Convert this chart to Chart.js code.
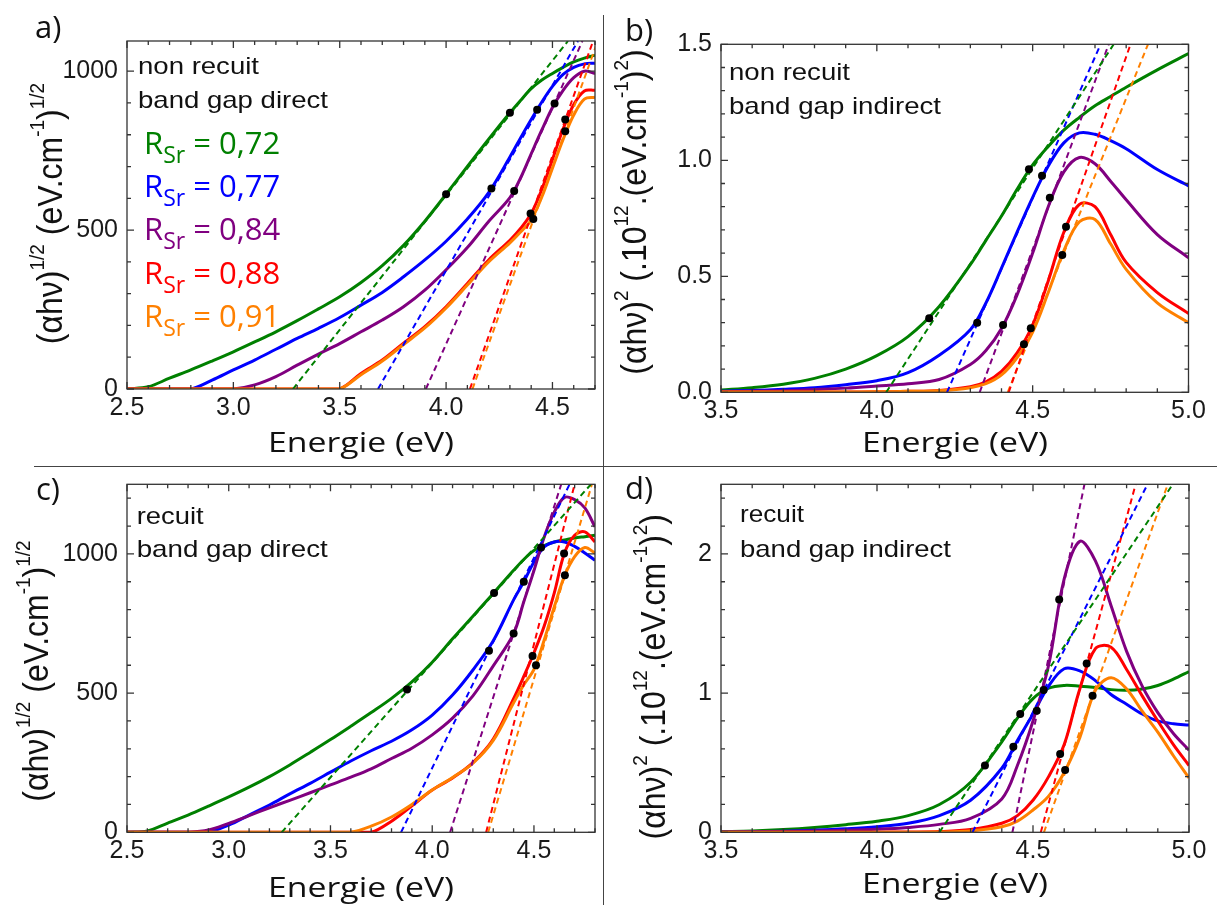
<!DOCTYPE html>
<html>
<head>
<meta charset="utf-8">
<script src="https://cdn.jsdelivr.net/npm/chart.js@4.4.1/dist/chart.umd.min.js"></script>
<style>
  html, body { margin: 0; padding: 0; background: #fff; }
  #page { position: relative; width: 1217px; height: 905px; overflow: hidden; background: #fff; }
  #page canvas { position: absolute; }
  .sep { position: absolute; background: #444; }
</style>
</head>
<body>
<div id="page">
  <canvas id="chartA" width="605" height="470" style="left:0;top:0"></canvas>
  <canvas id="chartB" width="612" height="470" style="left:605px;top:0"></canvas>
  <canvas id="chartC" width="605" height="450" style="left:0;top:455px"></canvas>
  <canvas id="chartD" width="612" height="450" style="left:605px;top:455px"></canvas>
  <div class="sep" style="left:34px;top:466px;width:1183px;height:1px"></div>
  <div class="sep" style="left:603px;top:15px;width:1px;height:890px"></div>
</div>
<script>
// series: R_Sr values, in order green, blue, purple, red, orange
const seriesNames = ['0,72', '0,77', '0,84', '0,88', '0,91'];
const COLORS = ['#008000', '#0000ff', '#800080', '#ff0000', '#ff8000'];

// a) non recuit, band gap direct : (alpha h nu)^1/2
const aEnergy = [2.5, 2.6, 2.7, 2.8, 2.9, 3.0, 3.1, 3.2, 3.3, 3.4, 3.5, 3.6, 3.7, 3.8, 3.9, 4.0, 4.1, 4.2, 4.3, 4.35, 4.4, 4.45, 4.5, 4.55, 4.6, 4.65, 4.7];
const aGreen = [0, 7, 34, 60, 88, 117, 148, 180, 215, 252, 290, 335, 388, 452, 528, 613, 700, 786, 869, 908, 945, 972, 993, 1012, 1029, 1041, 1050];
const aBlue = [0, 0, 0, 0, 28, 60, 91, 125, 159, 191, 225, 264, 304, 353, 406, 465, 535, 618, 730, 790, 848, 903, 952, 990, 1012, 1023, 1025];
const aPurple = [0, 0, 0, 0, 0, 0, 13, 39, 75, 110, 143, 180, 217, 259, 311, 375, 445, 527, 602, 664, 740, 815, 886, 940, 980, 1000, 993];
const aRed = [0, 0, 0, 0, 0, 0, 0, 0, 0, 0, 0, 49, 91, 144, 196, 259, 332, 406, 468, 505, 552, 628, 722, 818, 895, 938, 940];
const aOrange = [0, 0, 0, 0, 0, 0, 0, 0, 0, 0, 0, 45, 88, 140, 192, 255, 327, 400, 460, 494, 532, 604, 695, 785, 862, 912, 918];
const aFitFrom = [3.28, 3.68, 3.905, 4.112, 4.124];
const aFitTo = [4.573, 4.62, 4.641, 4.691, 4.713];
const aDotE = [4.0, 4.30, 4.213, 4.428, 4.32, 4.51, 4.397, 4.56, 4.41, 4.56];
const aDotV = [613, 869, 631, 879, 623, 898, 552, 848, 535, 811];
const aXTicks = [2.5, 3.0, 3.5, 4.0, 4.5];
const aYTicks = [0, 500, 1000];

// b) non recuit, band gap indirect : (alpha h nu)^2 in 1e12
const bEnergy = [3.5, 3.6, 3.7, 3.8, 3.9, 4.0, 4.1, 4.2, 4.3, 4.35, 4.4, 4.45, 4.5, 4.55, 4.6, 4.65, 4.7, 4.75, 4.8, 4.9, 5.0];
const bGreen = [0.01, 0.02, 0.035, 0.06, 0.1, 0.158, 0.24, 0.37, 0.55, 0.655, 0.76, 0.875, 0.98, 1.06, 1.13, 1.185, 1.235, 1.275, 1.315, 1.39, 1.46];
const bBlue = [0.005, 0.008, 0.013, 0.02, 0.033, 0.05, 0.085, 0.16, 0.27, 0.385, 0.535, 0.69, 0.84, 0.975, 1.075, 1.118, 1.112, 1.085, 1.05, 0.96, 0.89];
const bPurple = [0.002, 0.004, 0.007, 0.012, 0.018, 0.027, 0.037, 0.055, 0.12, 0.18, 0.275, 0.42, 0.6, 0.8, 0.95, 1.012, 0.985, 0.91, 0.83, 0.68, 0.58];
const bRed = [0.001, 0.001, 0.001, 0.001, 0.001, 0.002, 0.004, 0.008, 0.024, 0.045, 0.09, 0.17, 0.29, 0.48, 0.69, 0.81, 0.8, 0.68, 0.56, 0.43, 0.34];
const bOrange = [0.001, 0.001, 0.001, 0.001, 0.001, 0.002, 0.004, 0.007, 0.02, 0.037, 0.075, 0.15, 0.26, 0.43, 0.61, 0.735, 0.745, 0.64, 0.53, 0.385, 0.30];
const bFitFrom = [4.03, 4.225, 4.33, 4.423, 4.42];
const bFitTo = [4.76, 4.718, 4.744, 4.814, 4.87];
const bDotE = [4.168, 4.488, 4.322, 4.53, 4.405, 4.555, 4.494, 4.607, 4.472, 4.595];
const bDotV = [0.319, 0.961, 0.30, 0.933, 0.29, 0.839, 0.276, 0.714, 0.207, 0.592];
const bXTicks = [3.5, 4.0, 4.5, 5.0];
const bYTicks = [0, 0.5, 1.0, 1.5];

// c) recuit, band gap direct
const cEnergy = [2.5, 2.6, 2.7, 2.8, 2.9, 3.0, 3.1, 3.2, 3.3, 3.4, 3.5, 3.6, 3.7, 3.8, 3.9, 4.0, 4.1, 4.2, 4.3, 4.4, 4.45, 4.5, 4.55, 4.6, 4.65, 4.7, 4.75, 4.8];
const cGreen = [0, 5, 33, 62, 94, 127, 162, 200, 242, 287, 333, 381, 430, 481, 540, 611, 695, 776, 858, 941, 980, 1012, 1030, 1043, 1050, 1057, 1062, 1067];
const cBlue = [0, 0, 0, 0, 0, 26, 62, 98, 138, 176, 216, 256, 293, 327, 368, 421, 493, 583, 688, 835, 900, 971, 1025, 1043, 1043, 1027, 1003, 977];
const cPurple = [0, 0, 0, 0, 8, 32, 60, 88, 115, 142, 170, 198, 228, 265, 302, 350, 410, 490, 598, 714, 828, 940, 1060, 1150, 1203, 1195, 1165, 1097];
const cRed = [0, 0, 0, 0, 0, 0, 0, 0, 0, 0, 0, 0, 0, 40, 95, 152, 195, 250, 335, 480, 560, 645, 740, 860, 1003, 1067, 1079, 1043];
const cOrange = [0, 0, 0, 0, 0, 0, 0, 0, 0, 0, 0, 0, 22, 55, 100, 152, 197, 248, 330, 465, 530, 585, 690, 810, 920, 990, 1023, 1003];
const cFitFrom = [3.26, 3.847, 4.088, 4.265, 4.275];
const cFitTo = [4.78, 4.675, 4.634, 4.70, 4.785];
const cDotE = [3.876, 4.304, 4.279, 4.45, 4.40, 4.535, 4.493, 4.648, 4.51, 4.652];
const cDotV = [513, 860, 652, 900, 714, 1023, 633, 1001, 600, 923];
const cXTicks = [2.5, 3.0, 3.5, 4.0, 4.5];
const cYTicks = [0, 500, 1000];

// d) recuit, band gap indirect
const dEnergy = [3.5, 3.6, 3.7, 3.8, 3.9, 4.0, 4.1, 4.2, 4.3, 4.4, 4.45, 4.5, 4.55, 4.6, 4.65, 4.7, 4.75, 4.8, 4.85, 4.9, 4.95, 5.0];
const dGreen = [0.005, 0.01, 0.02, 0.035, 0.055, 0.08, 0.12, 0.2, 0.36, 0.65, 0.82, 0.96, 1.035, 1.055, 1.05, 1.04, 1.025, 1.02, 1.03, 1.055, 1.1, 1.155];
const dBlue = [0.002, 0.004, 0.008, 0.015, 0.025, 0.04, 0.065, 0.12, 0.23, 0.46, 0.66, 0.85, 1.05, 1.175, 1.16, 1.09, 0.99, 0.92, 0.85, 0.8, 0.78, 0.77];
const dPurple = [0.001, 0.003, 0.005, 0.009, 0.014, 0.022, 0.035, 0.057, 0.1, 0.24, 0.48, 0.8, 1.2, 1.82, 2.09, 1.95, 1.63, 1.3, 1.05, 0.86, 0.71, 0.59];
const dRed = [0, 0, 0, 0, 0.001, 0.001, 0.002, 0.005, 0.02, 0.065, 0.12, 0.23, 0.4, 0.63, 1.03, 1.32, 1.33, 1.17, 0.98, 0.8, 0.63, 0.48];
const dOrange = [0, 0, 0, 0, 0, 0.001, 0.001, 0.002, 0.01, 0.04, 0.08, 0.16, 0.26, 0.43, 0.68, 1.02, 1.11, 1.03, 0.87, 0.72, 0.55, 0.39];
const dFitFrom = [4.20, 4.306, 4.434, 4.525, 4.535];
const dFitTo = [4.948, 4.867, 4.665, 4.829, 4.932];
const dDotE = [4.346, 4.459, 4.437, 4.512, 4.534, 4.584, 4.587, 4.672, 4.603, 4.691];
const dDotV = [0.479, 0.85, 0.615, 0.873, 1.022, 1.673, 0.562, 1.213, 0.447, 0.981];
const dXTicks = [3.5, 4.0, 4.5, 5.0];
const dYTicks = [0, 1, 2];

const titleDirect = [['(\u03b1h\u03bd)', 0], ['1/2', 1], [' (eV.cm', 0], ['-1', 1], [')', 0], ['1/2', 1]];
const titleIndirect = [['(\u03b1h\u03bd)', 0], ['2', 1], [' (.10', 0], ['12', 1], ['.(eV.cm', 0], ['-1', 1], [')', 0], ['2', 1], [')', 0]];

const TICK_FONT = '"Liberation Sans", Arial, sans-serif';
const TEXT_FONT = '"Open Sans", "Noto Sans", sans-serif';

function fitText(ctx, str, x, y, font, width) {
  ctx.save();
  ctx.font = font;
  const w = ctx.measureText(str).width;
  ctx.translate(x, y);
  ctx.scale(width ? width / w : 1, 1);
  ctx.fillText(str, 0, 0);
  ctx.restore();
}

function drawVertical(ctx, parts, x, cy) {
  const fonts = ['32px ' + TICK_FONT, '19px ' + TICK_FONT];
  ctx.save();
  ctx.translate(x, cy);
  ctx.rotate(-Math.PI / 2);
  ctx.scale(1, 1.08);
  let total = 0;
  parts.forEach(p => { ctx.font = fonts[p[1]]; total += ctx.measureText(p[0]).width; });
  let px = -total / 2;
  parts.forEach(p => {
    ctx.font = fonts[p[1]];
    ctx.fillText(p[0], px, p[1] ? -17 : 0);
    px += ctx.measureText(p[0]).width;
  });
  ctx.restore();
}

const panelDecor = {
  id: 'panelDecor',
  afterDatasetsDraw(chart, args, o) {
    const ctx = chart.ctx, xs = chart.scales.x, ys = chart.scales.y, a = chart.chartArea;
    ctx.save();
    ctx.strokeStyle = '#333';
    ctx.lineWidth = 1.3;
    ctx.strokeRect(a.left, a.top, a.right - a.left, a.bottom - a.top);
    const ticks = (min, max, step, major, isX) => {
      const k0 = Math.ceil(min / step - 1e-6), k1 = Math.floor(max / step + 1e-6);
      for (let k = k0; k <= k1; k++) {
        const v = k * step;
        const len = Math.abs(v / major - Math.round(v / major)) < 1e-6 ? 7 : 4;
        ctx.beginPath();
        if (isX) {
          const p = xs.getPixelForValue(v);
          ctx.moveTo(p, a.bottom); ctx.lineTo(p, a.bottom - len);
          ctx.moveTo(p, a.top); ctx.lineTo(p, a.top + len);
        } else {
          const p = ys.getPixelForValue(v);
          ctx.moveTo(a.left, p); ctx.lineTo(a.left + len, p);
          ctx.moveTo(a.right, p); ctx.lineTo(a.right - len, p);
        }
        ctx.stroke();
      }
    };
    ticks(xs.min, xs.max, o.xMinor, o.xMajor, true);
    ticks(ys.min, ys.max, o.yMinor, o.yMajor, false);
    ctx.restore();
  },
  afterDraw(chart, args, o) {
    const ctx = chart.ctx;
    ctx.save();
    ctx.fillStyle = '#111';
    ctx.textAlign = 'left';
    ctx.textBaseline = 'alphabetic';
    ctx.font = '31px ' + TEXT_FONT;
    ctx.fillText(o.letter[0], o.letter[1], o.letter[2]);
    o.notes.forEach(n => fitText(ctx, n[0], n[1], n[2], '24px ' + TICK_FONT, n[3]));
    fitText(ctx, 'Energie (eV)', o.xTitle[0] - 93, o.xTitle[1], '27px ' + TEXT_FONT, 186);
    drawVertical(ctx, o.yTitle, o.yTitlePos[0], o.yTitlePos[1]);
    if (o.legend) {
      seriesNames.forEach((name, i) => {
        const y = o.legend[1] + i * 43.2;
        let x = o.legend[0];
        ctx.fillStyle = COLORS[i];
        ctx.font = '31px ' + TEXT_FONT;
        ctx.fillText('R', x, y);
        x += ctx.measureText('R').width;
        ctx.font = '23px ' + TEXT_FONT;
        ctx.fillText('Sr', x, y + 9);
        x += ctx.measureText('Sr').width;
        ctx.font = '31px ' + TEXT_FONT;
        ctx.fillText(' = ' + name, x, y);
      });
    }
    ctx.restore();
  }
};

function makePanel(p) {
  const canvas = document.getElementById(p.id);
  const W = canvas.width, H = canvas.height;
  const datasets = [];
  p.curves.forEach((vals, i) => {
    datasets.push({
      data: p.energy.map((e, k) => ({ x: e, y: vals[k] })),
      borderColor: COLORS[i], borderWidth: 3, pointRadius: 0,
      tension: 0.35, order: 10 - i
    });
  });
  p.fitFrom.forEach((e0, i) => {
    datasets.push({
      data: [{ x: e0, y: p.yMin }, { x: p.fitTo[i], y: p.yMax }],
      borderColor: COLORS[i], borderWidth: 2, borderDash: [6, 4], pointRadius: 0, tension: 0, order: 3
    });
  });
  datasets.push({
    data: p.dotE.map((e, k) => ({ x: e, y: p.dotV[k] })),
    showLine: false, pointRadius: 4, pointBackgroundColor: '#000', pointBorderWidth: 0, order: 0
  });

  new Chart(canvas, {
    type: 'line',
    data: { datasets },
    plugins: [panelDecor],
    options: {
      responsive: false,
      animation: false,
      layout: { padding: { left: 0, top: p.area[1], right: W - p.area[2], bottom: 0 } },
      plugins: {
        legend: { display: false },
        tooltip: { enabled: false },
        panelDecor: p.decor
      },
      scales: {
        x: {
          type: 'linear', min: p.xMin, max: p.xMax,
          afterBuildTicks: s => { s.ticks = p.xTicks.map(v => ({ value: v })); },
          afterFit: s => { s.height = H - p.area[3]; },
          grid: { display: false, drawTicks: false },
          border: { display: false },
          ticks: {
            padding: 4, maxRotation: 0, autoSkip: false, color: '#1a1a1a',
            font: { family: TICK_FONT, size: 25 },
            callback: v => v.toFixed(1)
          }
        },
        y: {
          type: 'linear', min: p.yMin, max: p.yMax,
          afterBuildTicks: s => { s.ticks = p.yTicks.map(v => ({ value: v })); },
          afterFit: s => { s.width = p.area[0]; },
          grid: { display: false, drawTicks: false },
          border: { display: false },
          ticks: {
            padding: 9, autoSkip: false, color: '#1a1a1a',
            font: { family: TICK_FONT, size: 25 },
            callback: p.yFormat
          }
        }
      }
    }
  });
}

makePanel({
  id: 'chartA', energy: aEnergy, curves: [aGreen, aBlue, aPurple, aRed, aOrange],
  fitFrom: aFitFrom, fitTo: aFitTo, dotE: aDotE, dotV: aDotV,
  xMin: 2.5, xMax: 4.7, yMin: 0, yMax: 1095, xTicks: aXTicks, yTicks: aYTicks,
  yFormat: v => String(v), area: [127, 41, 595, 389],
  decor: {
    xMinor: 0.1, xMajor: 0.5, yMinor: 100, yMajor: 500,
    letter: ['a)', 35, 38],
    notes: [['non recuit', 138, 74, 121], ['band gap direct', 138, 108, 190]],
    xTitle: [361, 452], yTitle: titleDirect, yTitlePos: [62, 213.5],
    legend: [144, 154]
  }
});

makePanel({
  id: 'chartB', energy: bEnergy, curves: [bGreen, bBlue, bPurple, bRed, bOrange],
  fitFrom: bFitFrom, fitTo: bFitTo, dotE: bDotE, dotV: bDotV,
  xMin: 3.5, xMax: 5.0, yMin: 0, yMax: 1.5, xTicks: bXTicks, yTicks: bYTicks,
  yFormat: v => v.toFixed(1), area: [116, 44.3, 583.5, 392.3],
  decor: {
    xMinor: 0.1, xMajor: 0.5, yMinor: 0.1, yMajor: 0.5,
    letter: ['b)', 20, 41],
    notes: [['non recuit', 124, 80, 121], ['band gap indirect', 124, 114, 212]],
    xTitle: [350, 452], yTitle: titleIndirect, yTitlePos: [41, 212]
  }
});

makePanel({
  id: 'chartC', energy: cEnergy, curves: [cGreen, cBlue, cPurple, cRed, cOrange],
  fitFrom: cFitFrom, fitTo: cFitTo, dotE: cDotE, dotV: cDotV,
  xMin: 2.5, xMax: 4.8, yMin: 0, yMax: 1250, xTicks: cXTicks, yTicks: cYTicks,
  yFormat: v => String(v), area: [127, 29.3, 595, 377.3],
  decor: {
    xMinor: 0.1, xMajor: 0.5, yMinor: 100, yMajor: 500,
    letter: ['c)', 36, 45],
    notes: [['recuit', 136.7, 69, 67], ['band gap direct', 136.7, 102.3, 191]],
    xTitle: [361, 441.7], yTitle: titleDirect, yTitlePos: [48, 216]
  }
});

makePanel({
  id: 'chartD', energy: dEnergy, curves: [dGreen, dBlue, dPurple, dRed, dOrange],
  fitFrom: dFitFrom, fitTo: dFitTo, dotE: dDotE, dotV: dDotV,
  xMin: 3.5, xMax: 5.0, yMin: 0, yMax: 2.5, xTicks: dXTicks, yTicks: dYTicks,
  yFormat: v => String(v), area: [116, 29.3, 584, 377.3],
  decor: {
    xMinor: 0.1, xMajor: 0.5, yMinor: 0.2, yMajor: 1,
    letter: ['d)', 20, 44.3],
    notes: [['recuit', 135, 67.3, 64], ['band gap indirect', 135, 101.7, 211]],
    xTitle: [350, 438.3], yTitle: titleIndirect, yTitlePos: [60, 221.7]
  }
});
</script>
</body>
</html>
